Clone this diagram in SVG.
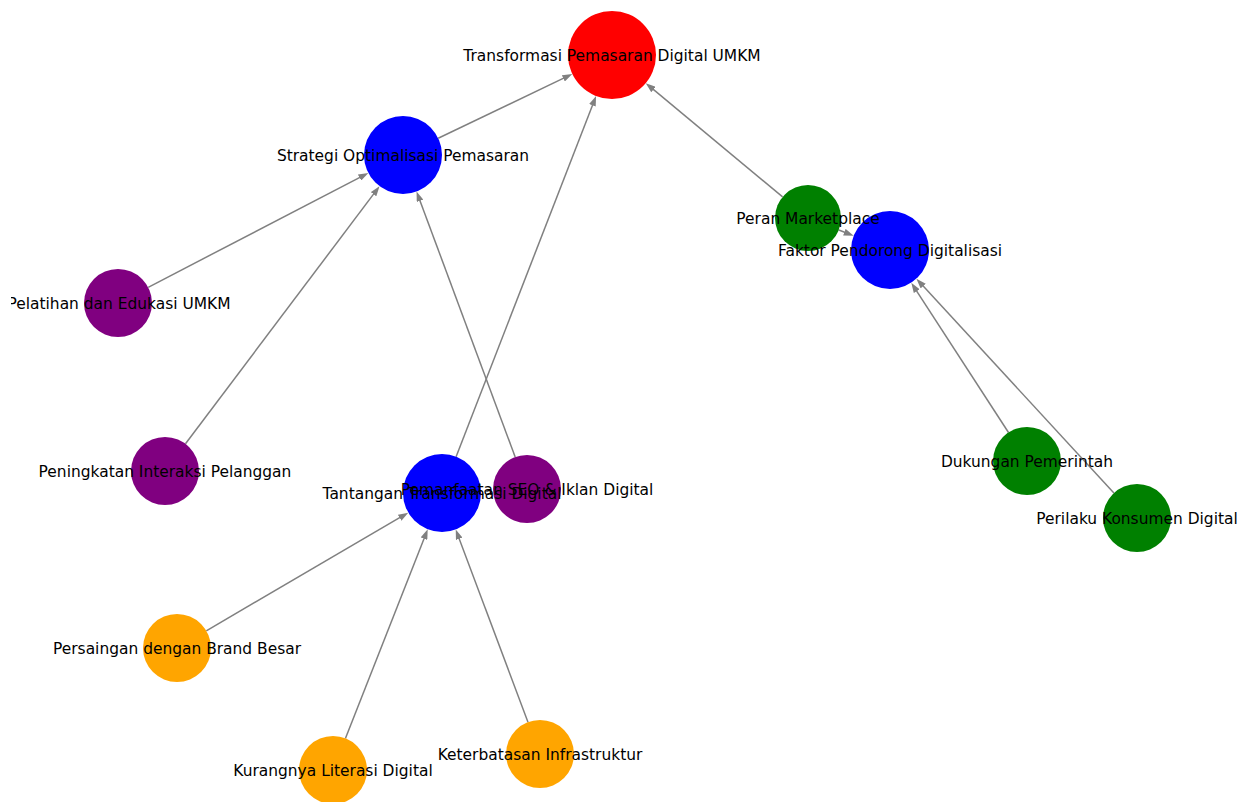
<svg xmlns="http://www.w3.org/2000/svg" width="1247" height="802" viewBox="0 0 1247 802">
<style>
.edge{stroke:#808080;stroke-width:1.5;fill:none;marker-end:url(#arr)}
.lbl{font-family:"DejaVu Sans",sans-serif;font-size:15.45px;fill:#000;text-anchor:middle}
.red{fill:#ff0000}.blue{fill:#0000ff}.green{fill:#008000}.purple{fill:#800080}.orange{fill:#ffa500}
</style>
<defs>
<marker id="arr" markerUnits="userSpaceOnUse" markerWidth="10" markerHeight="7" refX="1" refY="3.5" orient="auto">
<path d="M0,0 L10,3.5 L0,7 z" fill="#808080"/>
</marker>
<clipPath id="leftclip"><rect x="11" y="0" width="1236" height="802"/></clipPath>
</defs>
<rect width="1247" height="802" fill="#fff"/>
<g id="edges">
<line class="edge" x1="438.2" y1="138.2" x2="564.2" y2="77.9"/>
<line class="edge" x1="456.1" y1="456.7" x2="592.8" y2="104.4"/>
<line class="edge" x1="782.6" y1="196.9" x2="652.7" y2="88.9"/>
<line class="edge" x1="838.8" y1="230.0" x2="845.3" y2="232.5"/>
<line class="edge" x1="148.2" y1="287.3" x2="360.4" y2="177.1"/>
<line class="edge" x1="185.5" y1="443.8" x2="374.1" y2="193.4"/>
<line class="edge" x1="515.2" y1="457.1" x2="419.7" y2="199.9"/>
<line class="edge" x1="206.3" y1="630.8" x2="400.5" y2="517.2"/>
<line class="edge" x1="345.4" y1="738.4" x2="424.4" y2="537.7"/>
<line class="edge" x1="528.0" y1="722.2" x2="458.9" y2="537.9"/>
<line class="edge" x1="1008.5" y1="432.5" x2="916.2" y2="290.3"/>
<line class="edge" x1="1113.9" y1="493.0" x2="922.5" y2="285.3"/>
</g>
<g id="nodes">
<g id="node-transformasi"><circle class="red" cx="612" cy="55" r="44"/></g>
<g id="node-strategi"><circle class="blue" cx="403" cy="155" r="39"/></g>
<g id="node-faktor"><circle class="blue" cx="890" cy="250" r="39"/></g>
<g id="node-tantangan"><circle class="blue" cx="442" cy="493" r="39"/></g>
<g id="node-peran"><circle class="green" cx="808" cy="218" r="33"/></g>
<g id="node-dukungan"><circle class="green" cx="1027" cy="461" r="34"/></g>
<g id="node-perilaku"><circle class="green" cx="1137" cy="518" r="34"/></g>
<g id="node-pelatihan"><circle class="purple" cx="118" cy="303" r="34"/></g>
<g id="node-peningkatan"><circle class="purple" cx="165" cy="471" r="34"/></g>
<g id="node-pemanfaatan"><circle class="purple" cx="527" cy="489" r="34"/></g>
<g id="node-persaingan"><circle class="orange" cx="177" cy="648" r="34"/></g>
<g id="node-kurangnya"><circle class="orange" cx="333" cy="770" r="34"/></g>
<g id="node-keterbatasan"><circle class="orange" cx="540" cy="754" r="34"/></g>
</g>
<g id="labels">
<text class="lbl" id="label-transformasi" x="612" y="60.5">Transformasi Pemasaran Digital UMKM</text>
<text class="lbl" id="label-strategi" x="403" y="160.5">Strategi Optimalisasi Pemasaran</text>
<text class="lbl" id="label-faktor" x="890" y="255.5">Faktor Pendorong Digitalisasi</text>
<text class="lbl" id="label-tantangan" x="442" y="498.5">Tantangan Transformasi Digital</text>
<text class="lbl" id="label-peran" x="808" y="223.5">Peran Marketplace</text>
<text class="lbl" id="label-dukungan" x="1027" y="466.5">Dukungan Pemerintah</text>
<text class="lbl" id="label-perilaku" x="1137" y="523.5">Perilaku Konsumen Digital</text>
<text class="lbl" id="label-pelatihan" x="119" y="308.5" clip-path="url(#leftclip)">Pelatihan dan Edukasi UMKM</text>
<text class="lbl" id="label-peningkatan" x="165" y="476.5">Peningkatan Interaksi Pelanggan</text>
<text class="lbl" id="label-pemanfaatan" x="527" y="494.5">Pemanfaatan SEO &amp; Iklan Digital</text>
<text class="lbl" id="label-persaingan" x="177" y="653.5">Persaingan dengan Brand Besar</text>
<text class="lbl" id="label-kurangnya" x="333" y="775.5">Kurangnya Literasi Digital</text>
<text class="lbl" id="label-keterbatasan" x="540" y="759.5">Keterbatasan Infrastruktur</text>
</g>
</svg>
